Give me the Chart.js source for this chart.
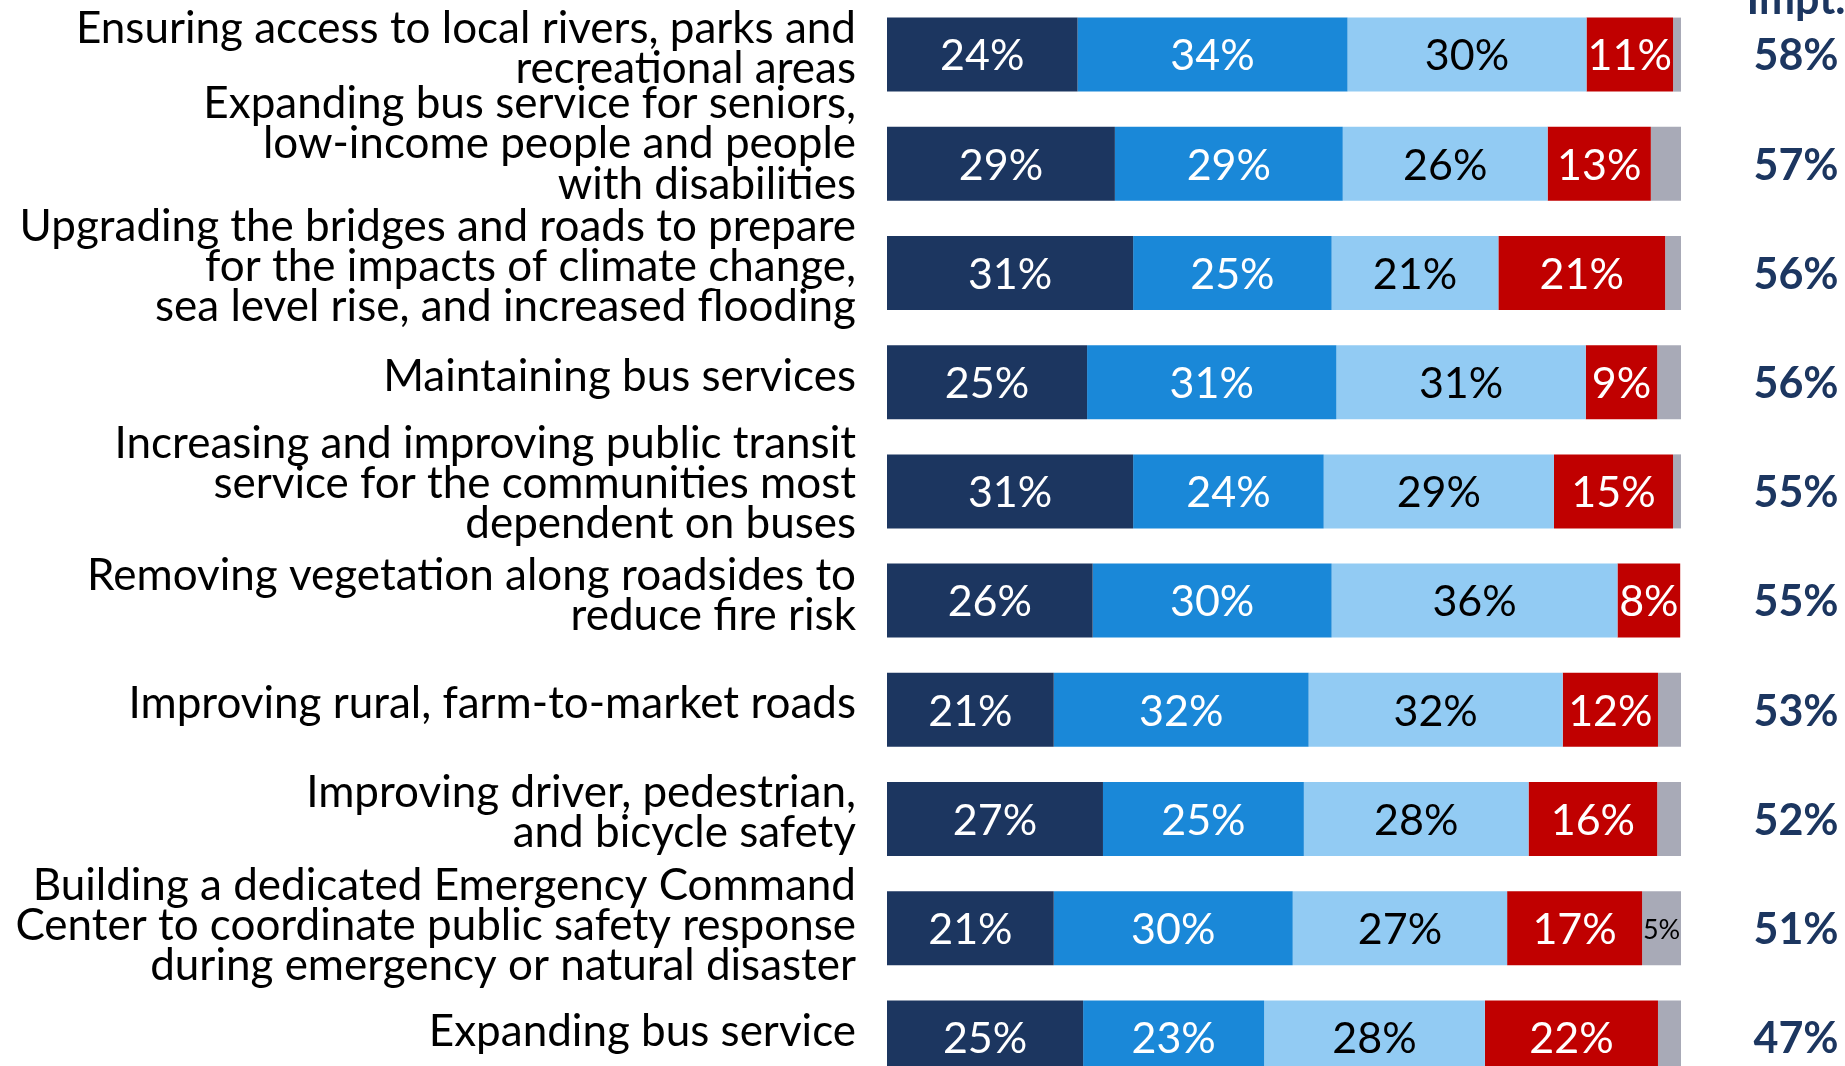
<!DOCTYPE html>
<html><head><meta charset="utf-8">
<script src="https://cdn.jsdelivr.net/npm/chart.js@4/dist/chart.umd.min.js"></script>
<style>
html,body{margin:0;padding:0;background:#fff;overflow:hidden;}
#wrap{position:relative;width:1845px;height:1092px;}
</style></head><body>
<div id="wrap"><canvas id="c"></canvas></div>
<script>
const categories = [
  ["Ensuring access to local rivers, parks and", "recreational areas"],
  ["Expanding bus service for seniors,", "low-income people and people", "with disabilities"],
  ["Upgrading the bridges and roads to prepare", "for the impacts of climate change,", "sea level rise, and increased flooding"],
  ["Maintaining bus services"],
  ["Increasing and improving public transit", "service for the communities most", "dependent on buses"],
  ["Removing vegetation along roadsides to", "reduce fire risk"],
  ["Improving rural, farm-to-market roads"],
  ["Improving driver, pedestrian,", "and bicycle safety"],
  ["Building a dedicated Emergency Command", "Center to coordinate public safety response", "during emergency or natural disaster"],
  ["Expanding bus service"]
];
const extremelyImportant = [24.0, 28.7, 31.0, 25.2, 31.0, 25.9, 21.0, 27.2, 21.0, 24.7];
const veryImportant      = [34.0, 28.7, 25.0, 31.4, 24.0, 30.1, 32.1, 25.3, 30.1, 22.8];
const somewhatImportant  = [30.1, 25.8, 21.0, 31.4, 29.0, 36.0, 32.0, 28.3, 27.0, 27.8];
const notImportant       = [10.9, 13.0, 21.0,  9.0, 15.0,  7.9, 12.0, 16.2, 17.0, 21.8];
const dontKnow           = [ 1.0,  3.8,  2.0,  3.0,  1.0,  0.0,  2.9,  3.0,  4.9,  2.9];
const totalImportant     = [58, 57, 56, 56, 55, 55, 53, 52, 51, 47];
const seriesNames = ["Extremely important", "Very important", "Somewhat important", "Not important", "Don't know"];
const columnHeader = "Impt.";

// per-label vertical nudges (layout only)
const labelNudge = [-0.5, -14, -1, 0, -2, 0.5, 0, -1, 3.5, 0];

const NAVY = '#1C3660';
const colors = [NAVY, '#1A88D8', '#92CBF3', '#C00000', '#A8AAB7'];
const textColors = ['#ffffff', '#ffffff', '#000000', '#ffffff', '#000000'];
const FONT = 'Lato, "Open Sans", sans-serif';

const segLabels = {
  id: 'segLabels',
  afterDatasetsDraw(chart) {
    const ctx = chart.ctx;
    chart.data.datasets.forEach((ds, di) => {
      const meta = chart.getDatasetMeta(di);
      meta.data.forEach((bar, j) => {
        const r = Math.round(ds.data[j]);
        if (r <= 0) return;
        if (di === 4 && r < 5) return;
        const p = bar.getProps(['x', 'y', 'base'], true);
        ctx.save();
        ctx.font = (di === 4 ? '27px ' : '43px ') + FONT;
        ctx.fillStyle = textColors[di];
        ctx.textAlign = 'center';
        ctx.textBaseline = 'middle';
        ctx.fillText(r + '%', (p.x + p.base) / 2, p.y + 2);
        ctx.restore();
      });
    });
    const ys = chart.scales.y;
    const cx = chart.chartArea.right + 115;
    ctx.save();
    ctx.font = 'bold 43px ' + FONT;
    ctx.fillStyle = NAVY;
    ctx.textAlign = 'center';
    ctx.textBaseline = 'middle';
    totalImportant.forEach((v, i) => ctx.fillText(v + '%', cx, ys.getPixelForValue(i) + 2));
    ctx.textBaseline = 'alphabetic';
    ctx.fillText(columnHeader, cx, 14);
    ctx.restore();
  }
};

const datasets = [extremelyImportant, veryImportant, somewhatImportant, notImportant, dontKnow].map((d, i) => ({
  label: seriesNames[i],
  data: d,
  backgroundColor: colors[i],
  borderWidth: 0,
  barPercentage: 0.678,
  categoryPercentage: 1.0
}));

new Chart(document.getElementById('c'), {
  type: 'bar',
  data: { labels: categories, datasets },
  options: {
    indexAxis: 'y',
    responsive: true,
    maintainAspectRatio: false,
    animation: false,
    layout: { padding: { left: 0, right: 164, top: 0, bottom: 0 } },
    plugins: { legend: { display: false }, tooltip: { enabled: false } },
    scales: {
      x: { stacked: true, min: 0, max: 100, display: false },
      y: {
        stacked: true,
        grid: { display: false, drawTicks: false },
        border: { display: false },
        ticks: {
          color: '#000',
          autoSkip: false,
          font: { family: FONT, size: 44, lineHeight: 0.91 },
          padding: 31,
          labelOffset: -5.5
        },
        afterFit(s) {
          s.width = 887; s.paddingTop = 0; s.paddingBottom = 0;
          if (!s._nudged && typeof s._computeLabelItems === 'function') {
            const orig = s._computeLabelItems.bind(s);
            s._computeLabelItems = function (ca) {
              const items = orig(ca);
              try {
                items.forEach((it, i) => {
                  if (it && it.options && it.options.translation) it.options.translation[1] += (labelNudge[i] || 0);
                });
              } catch (e) {}
              return items;
            };
            s._nudged = true;
          }
        }
      }
    }
  },
  plugins: [segLabels]
});
</script>
</body></html>
